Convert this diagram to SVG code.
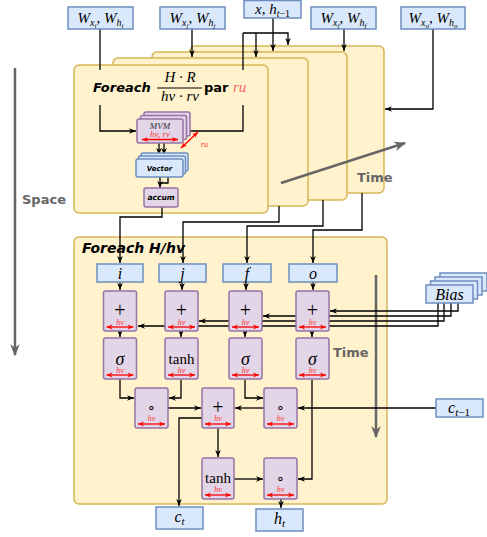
<svg xmlns="http://www.w3.org/2000/svg" width="487" height="537" viewBox="0 0 487 537">
<style>
.fr{fill:#FFF2CC;stroke:#D6B656;stroke-width:1.5}
.bl{fill:#DAE8FC;stroke:#6C8EBF;stroke-width:1.5}
.pu{fill:#E1D5E7;stroke:#9673A6;stroke-width:1.5}
.c{fill:none;stroke:#000;stroke-width:1.3}
.ca{fill:none;stroke:#000;stroke-width:1.3;marker-end:url(#a)}
.ra{fill:none;stroke:#FF0000;stroke-width:1.3;marker-start:url(#r);marker-end:url(#r)}
.ga{fill:none;stroke:#666;stroke-width:2.5;marker-end:url(#g)}
.m{font-family:"Liberation Serif","Times New Roman",serif;font-style:italic;fill:#000}
.s{font-family:"Liberation Serif","Times New Roman",serif;fill:#000}
.hv{font-family:"Liberation Serif","Times New Roman",serif;font-style:italic;font-size:8px;fill:#FF3333;text-anchor:middle}
.b{font-family:"DejaVu Sans",sans-serif;font-weight:bold;font-style:oblique;fill:#000}
.bu{font-family:"DejaVu Sans",sans-serif;font-weight:bold;font-style:normal;fill:#000}
.gt{font-family:"DejaVu Sans",sans-serif;font-weight:bold;font-size:13px;fill:#666}
</style>
<defs>
<marker id="a" viewBox="0 0 10 10" refX="10" refY="5" markerWidth="7" markerHeight="7" markerUnits="userSpaceOnUse" orient="auto"><path d="M0,1 L10,5 L0,9 L3,5 z" fill="#000"/></marker>
<marker id="r" viewBox="0 0 10 10" refX="10" refY="5" markerWidth="6" markerHeight="6" markerUnits="userSpaceOnUse" orient="auto-start-reverse"><path d="M0,1 L10,5 L0,9 L3,5 z" fill="#FF0000"/></marker>
<marker id="g" viewBox="0 0 10 10" refX="9" refY="5" markerWidth="12" markerHeight="12" markerUnits="userSpaceOnUse" orient="auto"><path d="M0,1 L10,5 L0,9 L3,5 z" fill="#666"/></marker>
</defs>

<g id="frame-o"><rect class="fr" x="190" y="46" width="194" height="147" rx="5"/></g>
<g id="frame-f"><rect class="fr" x="152" y="52" width="195" height="148" rx="5"/></g>
<g id="frame-j"><rect class="fr" x="113" y="58" width="195" height="148" rx="5"/></g>
<g id="frame-i"><rect class="fr" x="74" y="65" width="194" height="148" rx="5"/>
<text class="b" x="93" y="92" font-size="13">Foreach</text>
<text class="m" x="180" y="82" font-size="15" text-anchor="middle">H · R</text>
<line x1="157" y1="88" x2="202" y2="88" stroke="#000" stroke-width="1"/>
<text class="m" x="180" y="101" font-size="15" text-anchor="middle">hv · rv</text>
<text class="bu" x="204" y="92" font-size="13">par</text>
<text class="m" x="233" y="92" font-size="15" style="fill:#FF6666">ru</text>
</g>
<g id="frame-bottom"><rect class="fr" x="74" y="237" width="313" height="267" rx="5"/>
<text class="b" x="82" y="253" font-size="14">Foreach H/hv</text>
</g>

<g id="axes">
<path class="ga" d="M15,68 V355"/>
<text class="gt" x="22" y="204">Space</text>
<path class="ga" d="M281,183 L405,143"/>
<text class="gt" x="357" y="182">Time</text>
<path class="ga" d="M376,275 V437"/>
<text class="gt" x="333" y="357">Time</text>
</g>

<g id="connectors">
<path class="c" d="M100,29 V70"/>
<path class="ca" d="M100,105 V131 H136"/>
<path class="ca" d="M192,29 V57"/>
<path class="ca" d="M273,18 V51"/>
<path class="ca" d="M243,33 H288 V45"/>
<path class="ca" d="M256,33 V57"/>
<path class="c" d="M243,33 V70"/>
<path class="ca" d="M243,105 V131 H184"/>
<path class="ca" d="M344,29 V51"/>
<path class="ca" d="M433,29 V109 H385"/>
<path class="ca" d="M159,143 V155"/>
<path class="ca" d="M164,143 V155"/>
<path class="ca" d="M160,177 V188"/>
<path class="c" d="M168,177 V183 H160"/>
<path class="ca" d="M162,207 V217 H120 V263"/>
<path class="ca" d="M279,206 V222 H183 V263"/>
<path class="ca" d="M323,200 V226 H247 V263"/>
<path class="ca" d="M362,193 V230 H313 V263"/>
<path class="ca" d="M120,282 V290"/>
<path class="ca" d="M182,282 V290"/>
<path class="ca" d="M246,282 V290"/>
<path class="ca" d="M313,282 V290"/>
<path class="ca" d="M120,331 V337"/>
<path class="ca" d="M181,331 V337"/>
<path class="ca" d="M245,331 V337"/>
<path class="ca" d="M312,331 V337"/>
<path class="ca" d="M458,303 V311 H330"/>
<path class="ca" d="M451,303 V316 H263"/>
<path class="ca" d="M444,303 V321 H199"/>
<path class="ca" d="M438,303 V326 H138"/>
<path class="ca" d="M120,379 V398 H134"/>
<path class="ca" d="M181,380 V398 H169"/>
<path class="ca" d="M245,380 V398 H263"/>
<path class="ca" d="M312,380 V479 H298"/>
<path class="ca" d="M436,408 H298"/>
<path class="ca" d="M168,408 H201"/>
<path class="ca" d="M264,408 H235"/>
<path class="ca" d="M218,428 V457"/>
<path class="ca" d="M202,418 H179 V506"/>
<path class="ca" d="M234,479 H263"/>
<path class="ca" d="M281,499 V508"/>
</g>

<g id="w-i"><rect class="bl" x="68" y="7" width="65" height="22"/>
<text class="m" x="100.5" y="23" font-size="15" text-anchor="middle">W<tspan font-size="10" dy="3">x</tspan><tspan font-size="7" dy="2">i</tspan><tspan font-style="normal" dy="-5">, </tspan>W<tspan font-size="10" dy="3">h</tspan><tspan font-size="7" dy="2">i</tspan></text></g>
<g id="w-j"><rect class="bl" x="160" y="7" width="65" height="22"/>
<text class="m" x="192.5" y="23" font-size="15" text-anchor="middle">W<tspan font-size="10" dy="3">x</tspan><tspan font-size="7" dy="2">j</tspan><tspan font-style="normal" dy="-5">, </tspan>W<tspan font-size="10" dy="3">h</tspan><tspan font-size="7" dy="2">j</tspan></text></g>
<g id="xh"><rect class="bl" x="244" y="0.5" width="57" height="17.5"/>
<text class="m" x="272.5" y="14" font-size="15" text-anchor="middle">x<tspan font-style="normal">, </tspan>h<tspan font-size="10" dy="3">t</tspan><tspan font-size="10" font-style="normal">−1</tspan></text></g>
<g id="w-f"><rect class="bl" x="311" y="7" width="65" height="22"/>
<text class="m" x="343.5" y="23" font-size="15" text-anchor="middle">W<tspan font-size="10" dy="3">x</tspan><tspan font-size="7" dy="2">f</tspan><tspan font-style="normal" dy="-5">, </tspan>W<tspan font-size="10" dy="3">h</tspan><tspan font-size="7" dy="2">f</tspan></text></g>
<g id="w-o"><rect class="bl" x="401" y="7" width="64" height="22"/>
<text class="m" x="433" y="23" font-size="15" text-anchor="middle">W<tspan font-size="10" dy="3">x</tspan><tspan font-size="7" dy="2">o</tspan><tspan font-style="normal" dy="-5">, </tspan>W<tspan font-size="10" dy="3">h</tspan><tspan font-size="7" dy="2">o</tspan></text></g>

<g id="mvm">
<rect class="pu" x="144" y="112" width="46" height="24" rx="2"/>
<rect class="pu" x="140.5" y="115.5" width="46" height="24" rx="2"/>
<rect class="pu" x="137" y="119" width="46" height="24" rx="2"/>
<text class="m" x="160" y="129" font-size="9" text-anchor="middle" style="fill:#333">MVM</text>
<text class="m" x="160" y="136.5" font-size="9" text-anchor="middle" style="fill:#FF3333">hv, rv</text>
<path class="ra" d="M142,139.5 H178"/>
<path class="ra" d="M198,132 L181,148"/>
<text class="m" x="201" y="147" font-size="8" style="fill:#FF3333">ru</text>
</g>
<g id="vector">
<rect class="bl" x="141" y="153" width="47" height="18" rx="2"/>
<rect class="bl" x="138.5" y="156" width="47" height="18" rx="2"/>
<rect class="bl" x="136" y="159" width="47" height="18" rx="2"/>
<text class="b" x="159.5" y="171" font-size="7" text-anchor="middle">Vector</text>
</g>
<g id="accum"><rect class="pu" x="144" y="188" width="34" height="19" rx="2"/>
<text class="b" x="161" y="200" font-size="7.5" text-anchor="middle">accum</text></g>

<g id="gate-i"><rect class="bl" x="97" y="264" width="46" height="18"/><text class="m" x="120" y="279" font-size="16" text-anchor="middle">i</text></g>
<g id="gate-j"><rect class="bl" x="159" y="264" width="47" height="18"/><text class="m" x="182.5" y="279" font-size="16" text-anchor="middle">j</text></g>
<g id="gate-f"><rect class="bl" x="223" y="264" width="48" height="18"/><text class="m" x="247" y="279" font-size="16" text-anchor="middle">f</text></g>
<g id="gate-o"><rect class="bl" x="289" y="264" width="48" height="18"/><text class="m" x="313" y="279" font-size="16" text-anchor="middle">o</text></g>

<g id="add-i"><rect class="pu" x="103.5" y="291" width="33" height="40" rx="2"/><text class="s" x="120" y="317" font-size="20" text-anchor="middle">+</text><text class="hv" x="120" y="324.5">hv</text><path class="ra" d="M106.5,327 H133.5"/></g>
<g id="add-j"><rect class="pu" x="165" y="291" width="33" height="40" rx="2"/><text class="s" x="181.5" y="317" font-size="20" text-anchor="middle">+</text><text class="hv" x="181.5" y="324.5">hv</text><path class="ra" d="M168,327 H195"/></g>
<g id="add-f"><rect class="pu" x="229" y="291" width="33" height="40" rx="2"/><text class="s" x="245.5" y="317" font-size="20" text-anchor="middle">+</text><text class="hv" x="245.5" y="324.5">hv</text><path class="ra" d="M232,327 H259"/></g>
<g id="add-o"><rect class="pu" x="296" y="291" width="33" height="40" rx="2"/><text class="s" x="312.5" y="317" font-size="20" text-anchor="middle">+</text><text class="hv" x="312.5" y="324.5">hv</text><path class="ra" d="M299,327 H326"/></g>

<g id="sig-i"><rect class="pu" x="103.5" y="338" width="33" height="41" rx="2"/><text class="m" x="120" y="365" font-size="18" text-anchor="middle">σ</text><text class="hv" x="120" y="372.5">hv</text><path class="ra" d="M106.5,375 H133.5"/></g>
<g id="tanh-j"><rect class="pu" x="165" y="338" width="33" height="41" rx="2"/><text class="s" x="181.5" y="364" font-size="15" text-anchor="middle">tanh</text><text class="hv" x="181.5" y="372.5">hv</text><path class="ra" d="M168,375 H195"/></g>
<g id="sig-f"><rect class="pu" x="229" y="338" width="33" height="41" rx="2"/><text class="m" x="245.5" y="365" font-size="18" text-anchor="middle">σ</text><text class="hv" x="245.5" y="372.5">hv</text><path class="ra" d="M232,375 H259"/></g>
<g id="sig-o"><rect class="pu" x="296" y="338" width="33" height="41" rx="2"/><text class="m" x="312.5" y="365" font-size="18" text-anchor="middle">σ</text><text class="hv" x="312.5" y="372.5">hv</text><path class="ra" d="M299,375 H326"/></g>

<g id="mul-ij"><rect class="pu" x="135" y="388" width="33" height="40" rx="2"/><text class="s" x="151.5" y="412" font-size="14" text-anchor="middle">∘</text><text class="hv" x="151.5" y="421">hv</text><path class="ra" d="M138,424 H165"/></g>
<g id="add-c"><rect class="pu" x="202" y="388" width="32" height="40" rx="2"/><text class="s" x="218" y="414" font-size="20" text-anchor="middle">+</text><text class="hv" x="218" y="421">hv</text><path class="ra" d="M205,424 H231"/></g>
<g id="mul-fc"><rect class="pu" x="264" y="388" width="33" height="40" rx="2"/><text class="s" x="280.5" y="412" font-size="14" text-anchor="middle">∘</text><text class="hv" x="280.5" y="421">hv</text><path class="ra" d="M267,424 H294"/></g>
<g id="tanh-c"><rect class="pu" x="202" y="458" width="32" height="41" rx="2"/><text class="s" x="218" y="483" font-size="15" text-anchor="middle">tanh</text><text class="hv" x="218" y="492">hv</text><path class="ra" d="M205,495 H231"/></g>
<g id="mul-h"><rect class="pu" x="264" y="458" width="33" height="41" rx="2"/><text class="s" x="280.5" y="483" font-size="14" text-anchor="middle">∘</text><text class="hv" x="280.5" y="492">hv</text><path class="ra" d="M267,495 H294"/></g>

<g id="bias">
<rect class="bl" x="440" y="273" width="47" height="18"/>
<rect class="bl" x="435" y="277" width="47" height="18"/>
<rect class="bl" x="430.5" y="281" width="47" height="18"/>
<rect class="bl" x="426" y="285" width="47" height="18"/>
<text class="m" x="449.5" y="300" font-size="16" text-anchor="middle">Bias</text>
</g>
<g id="c-prev"><rect class="bl" x="436" y="399" width="47" height="18"/><text class="m" x="459" y="413" font-size="16" text-anchor="middle">c<tspan font-size="11" dy="3">t</tspan><tspan font-size="11" font-style="normal">−1</tspan></text></g>
<g id="c-t"><rect class="bl" x="156" y="507" width="47" height="22"/><text class="m" x="179.5" y="522" font-size="16" text-anchor="middle">c<tspan font-size="11" dy="3">t</tspan></text></g>
<g id="h-t"><rect class="bl" x="256" y="509" width="47" height="22"/><text class="m" x="279.5" y="524" font-size="16" text-anchor="middle">h<tspan font-size="11" dy="3">t</tspan></text></g>
</svg>
